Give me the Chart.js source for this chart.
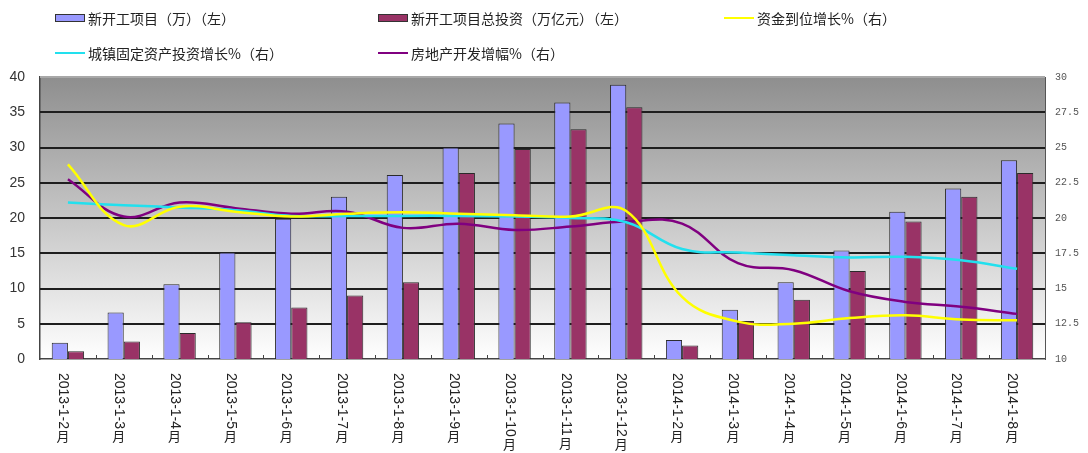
<!DOCTYPE html>
<html>
<head>
<meta charset="utf-8">
<script src="https://cdn.jsdelivr.net/npm/chart.js@4.4.1/dist/chart.umd.min.js"></script>
<style>
  html, body { margin: 0; padding: 0; background: #fff; }
  #wrap { position: relative; width: 1088px; height: 453px; }
  #chart_canvas { position: absolute; left: 0; top: 0; }
  .leg { position: absolute; font: 14px "Noto Sans CJK SC", sans-serif; color: #222; white-space: nowrap; line-height: 16px; }
  .sw { position: absolute; }
</style>
</head>
<body>
<div id="wrap">
  <canvas id="chart_canvas" width="1088" height="453"></canvas>
  <div id="legend"></div>
</div>
<script>
// x categories
const months = ["2013-1-2月", "2013-1-3月", "2013-1-4月", "2013-1-5月", "2013-1-6月", "2013-1-7月",
  "2013-1-8月", "2013-1-9月", "2013-1-10月", "2013-1-11月", "2013-1-12月",
  "2014-1-2月", "2014-1-3月", "2014-1-4月", "2014-1-5月", "2014-1-6月", "2014-1-7月", "2014-1-8月"];

// left axis (bars)
const newProjects = [2.3, 6.6, 10.6, 15.1, 19.9, 23.0, 26.1, 30.0, 33.4, 36.4, 38.9, 2.7, 7.0, 10.9, 15.4, 20.9, 24.2, 28.2];
const totalInvest = [1.1, 2.5, 3.7, 5.2, 7.3, 9.0, 10.9, 26.4, 29.8, 32.6, 35.7, 1.9, 5.4, 8.4, 12.5, 19.5, 23.0, 26.4];

// right axis (lines, %)
const fundsGrowth = [23.8, 19.5, 20.8, 20.45, 20.1, 20.3, 20.4, 20.3, 20.2, 20.1, 20.5, 14.4, 12.65, 12.5, 12.9, 13.1, 12.8, 12.75];
const fixedAssetGrowth = [21.1, 20.9, 20.75, 20.55, 20.15, 20.15, 20.15, 20.15, 20.1, 20.0, 19.7, 17.8, 17.55, 17.35, 17.2, 17.25, 17.0, 16.4];
const realEstateGrowth = [22.75, 20.1, 21.1, 20.7, 20.3, 20.45, 19.3, 19.6, 19.15, 19.4, 19.75, 19.6, 16.8, 16.3, 14.8, 14.05, 13.7, 13.2];

const seriesNames = ["新开工项目（万）（左）", "新开工项目总投资（万亿元）（左）", "资金到位增长%（右）",
  "城镇固定资产投资增长%（右）", "房地产开发增幅%（右）"];
const seriesColors = ["#9999ff", "#993366", "#ffff00", "#22e0ee", "#800080"];

// legend, drawn as html
const legendSpots = [
  {x: 55, y: 18, kind: "box"}, {x: 378, y: 18, kind: "box"}, {x: 724, y: 18, kind: "line"},
  {x: 55, y: 53, kind: "line"}, {x: 378, y: 53, kind: "line"}
];
function buildLegend()
{
  const lg = document.getElementById("legend");
  legendSpots.forEach((s, i) => {
    const sw = document.createElement("div");
    sw.className = "sw";
    if(s.kind == "box")
    {
      sw.style.cssText = `left:${s.x}px;top:${s.y - 4}px;width:28px;height:6px;background:${seriesColors[i]};border:1px solid #333;`;
    }
    else
    {
      sw.style.cssText = `left:${s.x}px;top:${s.y - 1}px;width:30px;height:2px;background:${seriesColors[i]};`;
    }
    lg.appendChild(sw);
    const t = document.createElement("div");
    t.className = "leg";
    t.style.left = (s.x + 33) + "px";
    t.style.top = (s.y - 8) + "px";
    t.textContent = seriesNames[i];
    lg.appendChild(t);
  });
}

const bgPlugin = {
  id: "bg",
  beforeDraw(chart)
  {
    const {ctx, chartArea: a} = chart;
    const g = ctx.createLinearGradient(0, a.top, 0, a.bottom);
    g.addColorStop(0, "#8e8e8e");
    g.addColorStop(1, "#ffffff");
    ctx.save();
    ctx.fillStyle = g;
    ctx.fillRect(a.left, a.top, a.right - a.left, a.bottom - a.top);
    ctx.restore();
  },
  beforeDatasetsDraw(chart)
  {
    // horizontal grid lines from the left scale
    const {ctx, chartArea: a} = chart;
    const ys = chart.scales.y;
    ctx.save();
    ys.ticks.forEach((t) => {
      if(t.value == 0) return;
      const py = Math.round(ys.getPixelForValue(t.value));
      ctx.strokeStyle = t.value == 40 ? "#a8a8a8" : "#1e1e1e";
      ctx.lineWidth = 2;
      ctx.beginPath();
      ctx.moveTo(a.left, py);
      ctx.lineTo(a.right, py);
      ctx.stroke();
    });
    ctx.restore();
  },
  afterDraw(chart)
  {
    const {ctx, chartArea: a} = chart;
    const xs = chart.scales.x;
    const step = xs.width / months.length;
    ctx.save();
    // little inner tick marks between categories
    ctx.strokeStyle = "#444";
    ctx.lineWidth = 1;
    for(let i = 1; i < months.length; i++)
    {
      const px = Math.round(xs.getPixelForValue(i) - step / 2) + 0.5;
      ctx.beginPath();
      ctx.moveTo(px, a.bottom);
      ctx.lineTo(px, a.bottom - 4);
      ctx.stroke();
    }
    // vertical category labels, digits turned, 月 upright
    ctx.fillStyle = "#222";
    ctx.font = '14px "Liberation Sans", Arial, sans-serif';
    months.forEach((m, i) => {
      const px = xs.getPixelForValue(i) - 5;
      const head = m.slice(0, -1);
      const w = ctx.measureText(head).width;
      ctx.save();
      ctx.translate(px, a.bottom + 14);
      ctx.rotate(Math.PI / 2);
      ctx.textAlign = "left";
      ctx.textBaseline = "middle";
      ctx.fillText(head, 0, 0);
      ctx.restore();
      ctx.save();
      ctx.font = '13px "Noto Sans CJK SC", sans-serif';
      ctx.textAlign = "center";
      ctx.textBaseline = "top";
      ctx.fillText("月", px, a.bottom + 14 + w + 1);
      ctx.restore();
    });
    ctx.restore();
  }
};

function drawChart()
{
  const barStyle = (i, data) => ({
    type: "bar", label: seriesNames[i], data: data, yAxisID: "y",
    backgroundColor: seriesColors[i], borderColor: "#2a2a2a", borderWidth: 1,
    categoryPercentage: 0.58, barPercentage: 1.0, order: 2
  });
  const lineStyle = (i, data) => ({
    type: "line", label: seriesNames[i], data: data, yAxisID: "y2",
    borderColor: seriesColors[i], borderWidth: 2.5, pointRadius: 0, tension: 0.4,
    fill: false, order: 1
  });

  const config =
  {
    data:
    {
      labels: months,
      datasets: [
        barStyle(0, newProjects),
        barStyle(1, totalInvest),
        lineStyle(2, fundsGrowth),
        lineStyle(3, fixedAssetGrowth),
        lineStyle(4, realEstateGrowth)
      ]
    },
    options:
    {
      responsive: false,
      animation: false,
      layout: {padding: {top: 77, left: 0, right: 0, bottom: 0}},
      plugins: {legend: {display: false}, tooltip: {enabled: false}},
      scales:
      {
        x:
        {
          offset: true,
          grid: {display: false, drawTicks: false},
          border: {display: true, color: "#444", width: 1.5},
          ticks: {display: false},
          afterFit: (s) => { s.height = 94; }
        },
        y:
        {
          position: "left", min: 0, max: 40,
          ticks: {stepSize: 5, padding: 15, color: "#333", font: {family: '"Liberation Sans", Arial', size: 14}},
          grid: {display: false, drawTicks: false},
          border: {display: true, color: "#444", width: 1.5},
          afterFit: (s) => { s.width = 40; }
        },
        y2:
        {
          position: "right", min: 10, max: 30,
          ticks: {stepSize: 2.5, padding: 10, color: "#555", font: {family: '"Liberation Mono", monospace', size: 10}},
          grid: {display: false, drawTicks: false},
          border: {display: true, color: "#555", width: 1},
          afterFit: (s) => { s.width = 43; }
        }
      }
    },
    plugins: [bgPlugin]
  };

  new Chart(document.getElementById("chart_canvas"), config);
}

buildLegend();
drawChart();
</script>
</body>
</html>
